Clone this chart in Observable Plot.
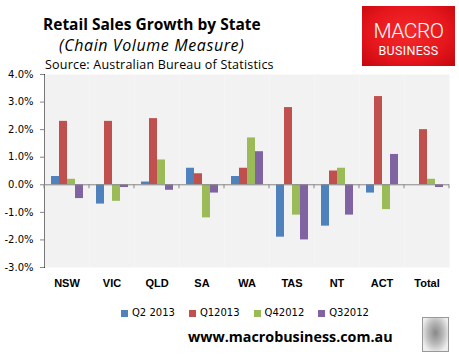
<!DOCTYPE html>
<html><head><meta charset="utf-8">
<script src="https://cdn.jsdelivr.net/npm/d3@7"></script>
<script src="https://cdn.jsdelivr.net/npm/@observablehq/plot@0.6"></script>
<style>
body{margin:0;background:#fff;}
#wrap{position:relative;width:459px;height:356px;overflow:hidden;background:#fff;}
#chart{position:absolute;left:0;top:0;}
.t{position:absolute;white-space:nowrap;line-height:1;color:#000;}
#title{left:43px;top:12.5px;font:bold 15.5px 'Open Sans';}
#subtitle{left:59px;top:34px;font:italic 16px 'Open Sans';letter-spacing:0.6px;}
#source{left:45px;top:56px;font:12.5px 'Open Sans';letter-spacing:0.2px;}
#url{left:188px;top:326.5px;font:bold 14.3px 'Open Sans';}
#logo{position:absolute;left:362px;top:6px;width:93px;height:60px;
  background:radial-gradient(ellipse at 50% 45%, #f42a2a 0%, #e5161c 60%, #c4060e 100%);}
#logo .m{position:absolute;left:0;width:93px;text-align:center;color:#fff;font-family:Roboto;line-height:1;}
#legend{position:absolute;left:121px;top:308px;display:flex;gap:14px;font:10px 'DejaVu Sans';line-height:1;}
#legend .item{display:flex;align-items:center;gap:4px;}
#legend .sw{width:7px;height:7px;}
#wolf{position:absolute;left:422px;top:317px;width:25px;height:33px;border:1px solid #999;
  background:radial-gradient(ellipse at 50% 45%, #888 0%, #bbb 45%, #eee 80%);}
#chart svg [aria-label^="y-axis"] line, #chart svg [aria-label^="y-axis"] path{stroke:#868686;}
#chart svg [aria-label^="fx-axis"] text{font-weight:bold;font-family:'Liberation Sans';font-size:11px;}
</style></head><body>
<div id="wrap">
  <div id="chart"></div>
  <div class="t" id="title">Retail Sales Growth by State</div>
  <div class="t" id="subtitle">(Chain Volume Measure)</div>
  <div class="t" id="source">Source: Australian Bureau of Statistics</div>
  <div id="logo"><div class="m" style="top:15px;font-size:21px;font-weight:300;letter-spacing:-0.5px;">MACRO</div><div class="m" style="top:39px;font-size:12.5px;letter-spacing:0.3px;">BUSINESS</div></div>
  <div id="legend"></div>
  <div class="t" id="url">www.macrobusiness.com.au</div>
  <div id="wolf"></div>
</div>
<script>
const states = ["NSW","VIC","QLD","SA","WA","TAS","NT","ACT","Total"];
const seriesNames = ["Q2 2013","Q12013","Q42012","Q32012"];
const q2_2013 = [0.3,-0.7,0.1,0.6,0.3,-1.9,-1.5,-0.3,0.0];
const q1_2013 = [2.3,2.3,2.4,0.4,0.6,2.8,0.5,3.2,2.0];
const q4_2012 = [0.2,-0.6,0.9,-1.2,1.7,-1.1,0.6,-0.9,0.2];
const q3_2012 = [-0.5,-0.1,-0.2,-0.3,1.2,-2.0,-1.1,1.1,-0.1];
const yTicks = [-3,-2,-1,0,1,2,3,4];
const colors = ["#4f81bd","#c0504d","#9bbb59","#8064a2"];

const rows = [];
[q2_2013,q1_2013,q4_2012,q3_2012].forEach((arr,i)=>arr.forEach((v,j)=>rows.push({state:states[j],series:seriesNames[i],value:v})));

const plot = Plot.plot({
  width:459, height:356, marginTop:74, marginRight:10, marginBottom:89, marginLeft:44,
  style:{fontFamily:"'DejaVu Sans'", fontSize:"10px", color:"#000", background:"transparent", overflow:"visible"},
  facet:{data:rows, x:"state"},
  fx:{domain:states, padding:0, paddingInner:0, paddingOuter:0, label:null, axis:"bottom", tickSize:0, tickPadding:12},
  x:{domain:seriesNames, paddingInner:0, paddingOuter:0.8125, axis:null},
  y:{domain:[-3,4], ticks:yTicks, tickFormat:d=>d.toFixed(1)+"%", label:null, tickSize:4, tickPadding:7, line:true},
  color:{domain:seriesNames, range:colors},
  marks:[
    Plot.frame({fill:"#f2f2f2", stroke:"none"}),
    Plot.barY(rows,{x:"series", y:"value", fill:"series"}),
    Plot.ruleY([0],{stroke:"#868686"})
  ]
});
document.getElementById("chart").appendChild(plot);

// category boundary tick marks on the zero line, from the library's scales
try {
  const fxs = plot.scale("fx"), ys = plot.scale("y");
  const band = d3.scaleBand(fxs.domain, fxs.range).paddingInner(0).paddingOuter(0);
  const y0 = ys.apply(0);
  const g = d3.select(plot).append("g").attr("stroke","#868686");
  const xs = fxs.domain.map(d=>band(d)).concat([band.range()[1]]);
  xs.forEach(x=>g.append("line").attr("x1",x).attr("x2",x).attr("y1",y0).attr("y2",y0+4));
} catch(e) { console.error(e); }

const legend = d3.select("#legend");
seriesNames.forEach((s,i)=>{
  const it = legend.append("div").attr("class","item");
  it.append("div").attr("class","sw").style("background",colors[i]);
  it.append("span").text(s);
});
</script>
</body></html>
